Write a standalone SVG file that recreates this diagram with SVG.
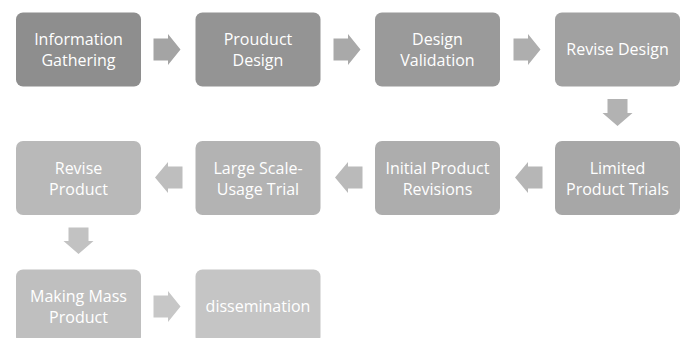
<svg xmlns="http://www.w3.org/2000/svg" width="686" height="338" viewBox="0 0 686 338">
<style>
.box{stroke:none}
.lbl{font-family:"Open Sans","Noto Sans","DejaVu Sans",sans-serif;font-size:16px;fill:#ffffff;text-anchor:middle}
</style>
<rect width="686" height="338" fill="#ffffff"/>
<g id="connectors">
<path d="M153.5,38.5 H168 V34 L180.5,49.5 L168,65 V60.5 H153.5 Z" fill="#a4a4a4"/>
<path d="M333.5,38.5 H348 V34 L360.5,49.5 L348,65 V60.5 H333.5 Z" fill="#a9a9a9"/>
<path d="M513.5,38.5 H528 V34 L540.5,49.5 L528,65 V60.5 H513.5 Z" fill="#aeaeae"/>
<path d="M607.5,99 H627.5 V113 H632.5 L617.5,126 L602.5,113 H607.5 Z" fill="#b2b2b2"/>
<path d="M542.5,166.5 H528 V162 L515,177.5 L528,193 V188.5 H542.5 Z" fill="#b6b6b6"/>
<path d="M362.5,166.5 H348 V162 L335,177.5 L348,193 V188.5 H362.5 Z" fill="#bababa"/>
<path d="M182.5,166.5 H168 V162 L155,177.5 L168,193 V188.5 H182.5 Z" fill="#bebebe"/>
<path d="M68.5,227.5 H88.5 V241 H93.5 L78.5,254 L63.5,241 H68.5 Z" fill="#c2c2c2"/>
<path d="M153.5,295.5 H168 V291 L180.5,306.5 L168,322 V317.5 H153.5 Z" fill="#c7c7c7"/>
</g>
<g id="n1"><rect class="box" x="16" y="12.5" width="125" height="74" rx="7" fill="#8e8e8e"/><text class="lbl" x="78.5" y="45">Information</text><text class="lbl" x="78.5" y="66">Gathering</text></g>
<g id="n2"><rect class="box" x="195.5" y="12.5" width="125" height="74" rx="7" fill="#949494"/><text class="lbl" x="258" y="45">Prouduct</text><text class="lbl" x="258" y="66">Design</text></g>
<g id="n3"><rect class="box" x="375" y="12.5" width="125" height="74" rx="7" fill="#9a9a9a"/><text class="lbl" x="437.5" y="45">Design</text><text class="lbl" x="437.5" y="66">Validation</text></g>
<g id="n4"><rect class="box" x="555" y="12.5" width="125" height="74" rx="7" fill="#a1a1a1"/><text class="lbl" x="617.5" y="55">Revise Design</text></g>
<g id="n5"><rect class="box" x="555" y="141" width="125" height="74" rx="7" fill="#a7a7a7"/><text class="lbl" x="617.5" y="173.5">Limited</text><text class="lbl" x="617.5" y="194.5">Product Trials</text></g>
<g id="n6"><rect class="box" x="375" y="141" width="125" height="74" rx="7" fill="#adadad"/><text class="lbl" x="437.5" y="173.5">Initial Product</text><text class="lbl" x="437.5" y="194.5">Revisions</text></g>
<g id="n7"><rect class="box" x="195.5" y="141" width="125" height="74" rx="7" fill="#b3b3b3"/><text class="lbl" x="258" y="173.5">Large Scale-</text><text class="lbl" x="258" y="194.5">Usage Trial</text></g>
<g id="n8"><rect class="box" x="16" y="141" width="125" height="74" rx="7" fill="#b9b9b9"/><text class="lbl" x="78.5" y="173.5">Revise</text><text class="lbl" x="78.5" y="194.5">Product</text></g>
<g id="n9"><rect class="box" x="16" y="269.5" width="125" height="74" rx="7" fill="#bfbfbf"/><text class="lbl" x="78.5" y="302">Making Mass</text><text class="lbl" x="78.5" y="323">Product</text></g>
<g id="n10"><rect class="box" x="195.5" y="269.5" width="125" height="74" rx="7" fill="#c5c5c5"/><text class="lbl" x="258" y="312">dissemination</text></g>
</svg>
